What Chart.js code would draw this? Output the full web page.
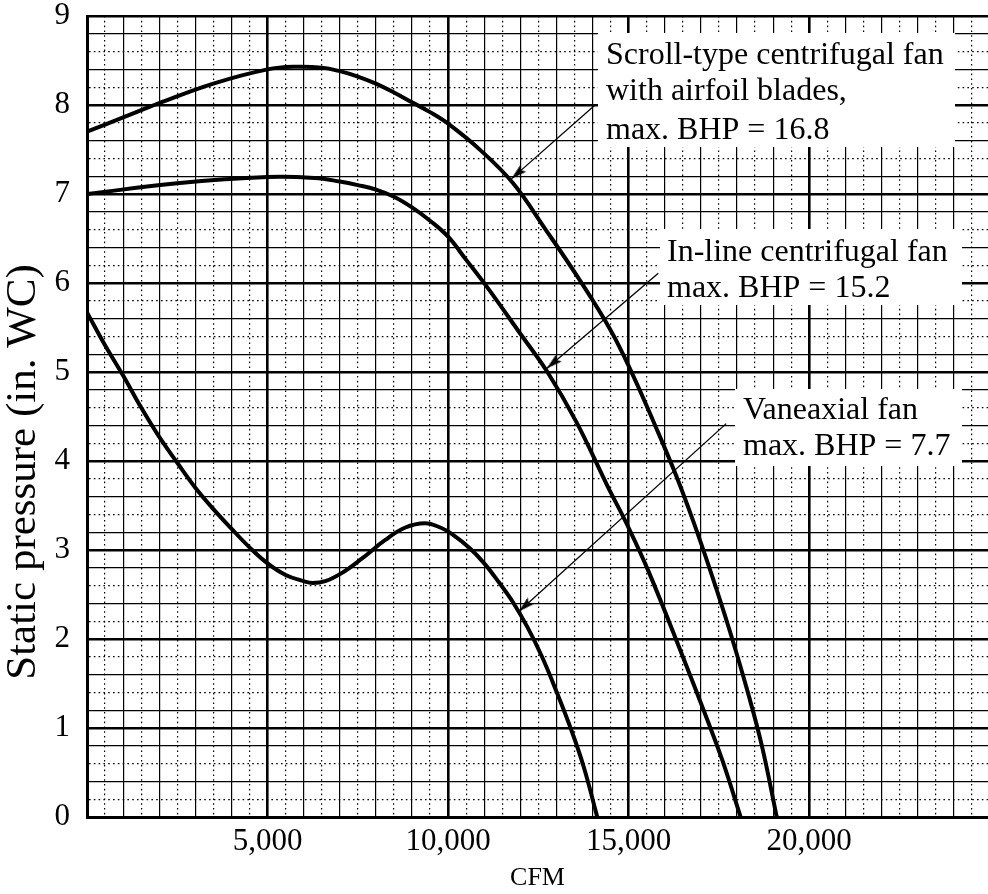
<!DOCTYPE html>
<html>
<head>
<meta charset="utf-8">
<script src="https://cdn.jsdelivr.net/npm/chart.js@4.4.1/dist/chart.umd.min.js"></script>
<style>
  html, body { margin: 0; padding: 0; background: #fff; overflow: hidden; }
  canvas { display: block; }
</style>
</head>
<body>
<canvas id="fanChart" width="988" height="894"></canvas>
<script>
// Fan curves: static pressure (in. WC) against airflow (CFM)
const scrollCfm = [0, 1000, 2000, 3500, 5000, 5800, 6500, 7000, 7500, 8000, 8500, 9000, 9500, 10000, 10900, 11800, 12700, 13600, 14500, 15100, 15700, 16300, 16800, 17300, 17800, 18300, 18700, 19100];
const scrollSp  = [7.70, 7.86, 8.02, 8.24, 8.40, 8.43, 8.42, 8.38, 8.32, 8.24, 8.14, 8.03, 7.92, 7.79, 7.49, 7.12, 6.60, 6.06, 5.47, 4.98, 4.43, 3.85, 3.31, 2.72, 2.09, 1.40, 0.78, 0];

const inlineCfm = [0, 2500, 5000, 6300, 7000, 7500, 8000, 8500, 9000, 9500, 10000, 10500, 11050, 12000, 12750, 13550, 14400, 14950, 15550, 16500, 17150, 17600, 18100];
const inlineSp  = [7.00, 7.12, 7.19, 7.18, 7.14, 7.10, 7.05, 6.97, 6.85, 6.70, 6.52, 6.26, 5.97, 5.43, 5.00, 4.44, 3.73, 3.29, 2.76, 1.80, 1.12, 0.63, 0];

const vaneCfm = [0, 500, 1000, 1500, 2000, 2500, 3000, 3500, 4000, 4500, 5000, 5500, 6000, 6250, 6600, 7050, 7600, 8250, 8800, 9360, 9800, 10100, 10600, 11000, 11400, 11800, 12200, 12600, 13000, 13400, 13750, 14130];
const vaneSp  = [5.67, 5.30, 4.96, 4.60, 4.27, 3.98, 3.70, 3.46, 3.24, 3.03, 2.85, 2.72, 2.65, 2.63, 2.65, 2.74, 2.90, 3.11, 3.25, 3.30, 3.25, 3.18, 3.02, 2.85, 2.64, 2.41, 2.13, 1.80, 1.41, 0.99, 0.57, 0];

// callouts: text and the arrow from the text to its curve
const noteLines = [
  ['Scroll-type centrifugal fan', 'with airfoil blades,', 'max. BHP = 16.8'],
  ['In-line centrifugal fan', 'max. BHP = 15.2'],
  ['Vaneaxial fan', 'max. BHP = 7.7']
];
const arrowTailCfm = [14070, 15820, 17700];
const arrowTailSp  = [8.00, 6.11, 4.42];
const arrowHeadCfm = [11750, 12730, 11960];
const arrowHeadSp  = [7.17, 5.04, 2.31];

const yTitle = 'Static pressure (in. WC)';

const SERIF = '"Liberation Serif", "Times New Roman", serif';
const isMult = (v, step) => Math.abs(v / step - Math.round(v / step)) < 1e-6;
const pts = (xs, ys) => xs.map((x, i) => ({ x: x, y: ys[i] }));

// narrow filled arrowhead, tip at the centre of the sprite, pointing up
const headSprite = document.createElement('canvas');
headSprite.width = 14; headSprite.height = 34;
(function () {
  const g = headSprite.getContext('2d');
  g.fillStyle = '#000';
  g.beginPath();
  g.moveTo(7, 17);
  g.lineTo(11.5, 33);
  g.lineTo(7, 30);
  g.lineTo(2.5, 33);
  g.closePath();
  g.fill();
})();

function curve(xs, ys) {
  return {
    data: pts(xs, ys),
    borderColor: '#000',
    borderWidth: 4,
    pointRadius: 0,
    fill: false,
    tension: 0.4,
    borderCapStyle: 'round',
    borderJoinStyle: 'round'
  };
}

function arrow(i) {
  return {
    data: [{ x: arrowTailCfm[i], y: arrowTailSp[i] }, { x: arrowHeadCfm[i], y: arrowHeadSp[i] }],
    borderColor: '#000',
    borderWidth: 1.3,
    tension: 0,
    pointRadius: c => (c.dataIndex === 1 ? 10 : 0),
    pointStyle: headSprite,
    pointRotation: c => {
      const xs = c.chart.scales.x, ys = c.chart.scales.y;
      const dx = xs.getPixelForValue(arrowHeadCfm[i]) - xs.getPixelForValue(arrowTailCfm[i]);
      const dy = ys.getPixelForValue(arrowHeadSp[i]) - ys.getPixelForValue(arrowTailSp[i]);
      return Math.atan2(dx, -dy) * 180 / Math.PI;
    }
  };
}

// white panels under the callout text, then the text itself
const noteBoxes = [
  { x: 598, y: 33, w: 357, h: 114 },
  { x: 660, y: 229, w: 302, h: 76 },
  { x: 735, y: 389, w: 227, h: 77 }
];
const noteText = [
  { x: 606, base: [64, 100, 139] },
  { x: 667, base: [261, 297] },
  { x: 743, base: [419, 455] }
];

const fanNotes = {
  id: 'fanNotes',
  beforeDatasetsDraw(chart) {
    const ctx = chart.ctx;
    ctx.save();
    ctx.fillStyle = '#fff';
    noteBoxes.forEach(b => ctx.fillRect(b.x, b.y, b.w, b.h));
    ctx.restore();
  },
  afterDatasetsDraw(chart) {
    const ctx = chart.ctx;
    ctx.save();
    ctx.fillStyle = '#000';
    ctx.font = '32px ' + SERIF;
    ctx.textAlign = 'left';
    ctx.textBaseline = 'alphabetic';
    noteLines.forEach((lines, n) => {
      lines.forEach((t, k) => ctx.fillText(t, noteText[n].x, noteText[n].base[k]));
    });
    // vertical axis title, reading bottom to top
    ctx.translate(24, 472);
    ctx.rotate(-Math.PI / 2);
    ctx.font = '43px ' + SERIF;
    ctx.textAlign = 'center';
    ctx.textBaseline = 'middle';
    ctx.fillText(yTitle, 0, 0);
    ctx.restore();
  }
};

const dotted = [1.6, 3.2];

new Chart(document.getElementById('fanChart'), {
  type: 'line',
  data: {
    datasets: [
      curve(scrollCfm, scrollSp),
      curve(inlineCfm, inlineSp),
      curve(vaneCfm, vaneSp),
      arrow(0), arrow(1), arrow(2)
    ]
  },
  options: {
    responsive: false,
    animation: false,
    devicePixelRatio: 1,
    layout: { autoPadding: false, padding: { top: 16, right: 0, bottom: 0, left: 0 } },
    plugins: { legend: { display: false }, tooltip: { enabled: false } },
    scales: {
      x: {
        type: 'linear',
        min: 0,
        max: 24950,
        afterBuildTicks: s => {
          const t = [];
          for (let v = 0; v <= 24500; v += 500) t.push({ value: v });
          s.ticks = t;
        },
        afterFit: s => { s.height = 77; s.paddingLeft = 0; s.paddingRight = 0; },
        ticks: {
          autoSkip: false,
          maxRotation: 0,
          padding: 6,
          color: '#000',
          font: { family: SERIF, size: 31 },
          callback: v => (v > 0 && isMult(v, 5000)) ? v.toLocaleString('en-US') : ''
        },
        grid: {
          color: '#000',
          drawTicks: false,
          lineWidth: c => (isMult(c.tick.value, 5000) ? 2.6 : 1.2)
        },
        border: {
          display: true,
          color: '#000',
          width: 3,
          dash: c => (c.type === 'tick' && c.tick && !isMult(c.tick.value, 1000)) ? dotted : []
        },
        title: {
          display: true,
          text: 'CFM',
          color: '#000',
          font: { family: SERIF, size: 26 },
          padding: { top: 0, bottom: 0 }
        }
      },
      y: {
        type: 'linear',
        min: 0,
        max: 9,
        afterFit: s => { s.width = 87; s.paddingTop = 0; s.paddingBottom = 0; },
        ticks: {
          stepSize: 0.2,
          autoSkip: false,
          padding: 17,
          color: '#000',
          font: { family: SERIF, size: 31 },
          callback: v => isMult(v, 1) ? String(Math.round(v)) : ''
        },
        grid: {
          color: '#000',
          drawTicks: false,
          lineWidth: c => (isMult(c.tick.value, 1) ? 2.6 : 1.2)
        },
        border: {
          display: true,
          color: '#000',
          width: 3,
          dash: c => {
            if (c.type !== 'tick' || !c.tick) return [];
            const k = Math.round(c.tick.value * 5);
            return (k % 5 !== 0 && k % 2 === 1) ? dotted : [];
          }
        }
      }
    }
  },
  plugins: [fanNotes]
});
</script>
</body>
</html>
